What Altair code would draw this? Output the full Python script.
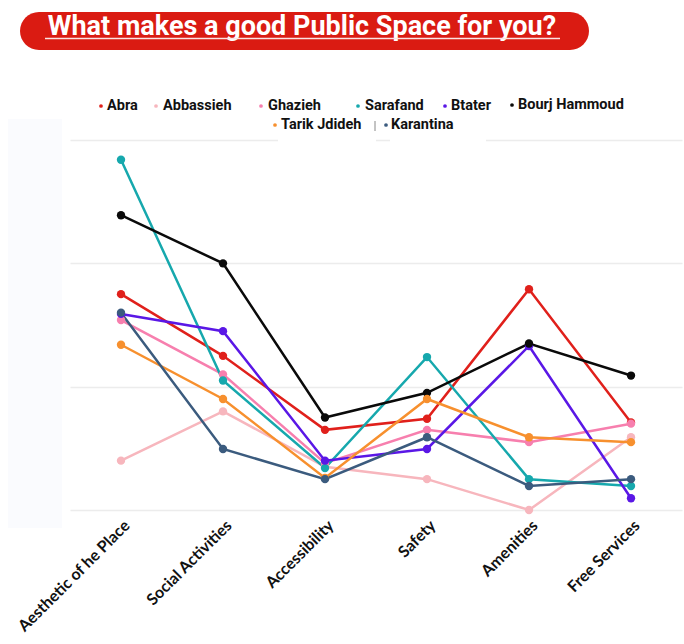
import altair as alt
import pandas as pd

categories = ["Aesthetic of he Place", "Social Activities", "Accessibility",
              "Safety", "Amenities", "Free Services"]
series = ["Abra", "Abbassieh", "Ghazieh", "Sarafand", "Btater",
          "Bourj Hammoud", "Tarik Jdideh", "Karantina"]
colors = ["#e0201b", "#f7b6bd", "#f77fae", "#16a8ad", "#5a17e6",
          "#0a0a0a", "#f7902e", "#3b5b7e"]

abra = [17.5, 12.5, 6.5, 7.4, 17.9, 7.1]
abbassieh = [4.0, 8.0, 3.5, 2.5, 0.0, 5.9]
ghazieh = [15.4, 11.0, 3.8, 6.5, 5.5, 7.0]
sarafand = [28.4, 10.5, 3.4, 12.4, 2.5, 1.95]
btater = [15.9, 14.5, 4.0, 4.95, 13.3, 0.95]
bourj = [23.9, 20.0, 7.5, 9.5, 13.5, 10.9]
tarik = [13.4, 9.0, 2.6, 9.0, 5.9, 5.5]
karantina = [16.0, 4.95, 2.5, 5.9, 1.95, 2.5]

title_text = "What makes a good Public Space for you?"

all_vals = [abra, abbassieh, ghazieh, sarafand, btater, bourj, tarik, karantina]
rows = []
for s, vals in zip(series, all_vals):
    for c, v in zip(categories, vals):
        rows.append({"series": s, "category": c, "value": v})
df = pd.DataFrame(rows)

# layout (page pixels -> plot-relative pixels)
L, T = 70, 140
W, H = 612, 370
def ax(x):
    return x - L
def ay(y):
    return y - T

one = pd.DataFrame({"k": [0]})

color_scale = alt.Scale(domain=series, range=colors)
x_enc = alt.X("category:N", sort=categories,
              scale=alt.Scale(type="point", padding=0.5),
              axis=alt.Axis(title=None, labelAngle=-45, labelAlign="right",
                            labelBaseline="top", labelFont="Lato",
                            labelFontWeight="bold", labelFontSize=16,
                            labelColor="#111111", ticks=False, domain=False,
                            grid=False, labelPadding=7))
y_enc = alt.Y("value:Q", scale=alt.Scale(domain=[0, 30], nice=False, zero=True),
              axis=alt.Axis(title=None, labels=False, ticks=False, domain=False,
                            values=[0, 10, 20, 30], grid=True,
                            gridColor="#ececec", gridWidth=1.5))

base = alt.Chart(df)
lines = base.mark_line(strokeWidth=2.5).encode(
    x=x_enc, y=y_enc,
    color=alt.Color("series:N", scale=color_scale, legend=None),
    detail="series:N")
points = base.mark_circle(size=70, opacity=1).encode(
    x=x_enc, y=y_enc,
    color=alt.Color("series:N", scale=color_scale, legend=None))

layers = []
# faint left strip
layers.append(alt.Chart(one).mark_rect(color="#fafbfe").encode(
    x=alt.value(ax(8)), x2=alt.value(ax(62)),
    y=alt.value(ay(119)), y2=alt.value(ay(528))))
# title box
layers.append(alt.Chart(one).mark_rect(color="#da1b12", cornerRadius=19).encode(
    x=alt.value(ax(20)), x2=alt.value(ax(589)),
    y=alt.value(ay(12)), y2=alt.value(ay(50))))
layers.append(alt.Chart(one).mark_text(
    text=title_text, font="Roboto", fontSize=27, fontWeight="bold",
    color="white", align="center", baseline="alphabetic").encode(
    x=alt.value(ax(302)), y=alt.value(ay(35))))
layers.append(alt.Chart(one).mark_rule(color="#fbe3e3", strokeWidth=1.5).encode(
    x=alt.value(ax(45)), x2=alt.value(ax(560)),
    y=alt.value(ay(38.5))))

# legend white boxes that interrupt the top grid line
for x0, x1 in [(278, 376), (390, 486)]:
    layers.append(alt.Chart(one).mark_rect(color="white").encode(
        x=alt.value(ax(x0)), x2=alt.value(ax(x1)),
        y=alt.value(ay(116)), y2=alt.value(ay(143))))

layers.append(lines)
layers.append(points)

# custom legend
legend_pos = {
    "Abra": (101, 107, 106),
    "Abbassieh": (156, 163, 106),
    "Ghazieh": (261, 268, 106),
    "Sarafand": (358, 365, 106),
    "Btater": (445, 451, 106),
    "Bourj Hammoud": (512, 518, 105),
    "Tarik Jdideh": (275, 281, 125),
    "Karantina": (386, 391, 125),
}
for s, col in zip(series, colors):
    dx, tx, ty = legend_pos[s]
    layers.append(alt.Chart(one).mark_circle(color=col, size=14, opacity=1).encode(
        x=alt.value(ax(dx)), y=alt.value(ay(ty))))
    layers.append(alt.Chart(one).mark_text(
        text=s, font="Roboto", fontSize=14.5, fontWeight="bold", color="#111111",
        align="left", baseline="middle").encode(
        x=alt.value(ax(tx)), y=alt.value(ay(ty))))
layers.append(alt.Chart(one).mark_rule(color="#888888", strokeWidth=1).encode(
    x=alt.value(ax(375)), y=alt.value(ay(121)), y2=alt.value(ay(131))))

chart = alt.layer(*layers).properties(
    width=W, height=H,
    padding={"left": L, "top": T, "right": 684 - L - W, "bottom": 644 - T - H},
    autosize=alt.AutoSizeParams(type="none"),
    background="white",
).configure_view(stroke=None)

chart.save("out.html", embed_options={"renderer": "svg", "actions": False})
